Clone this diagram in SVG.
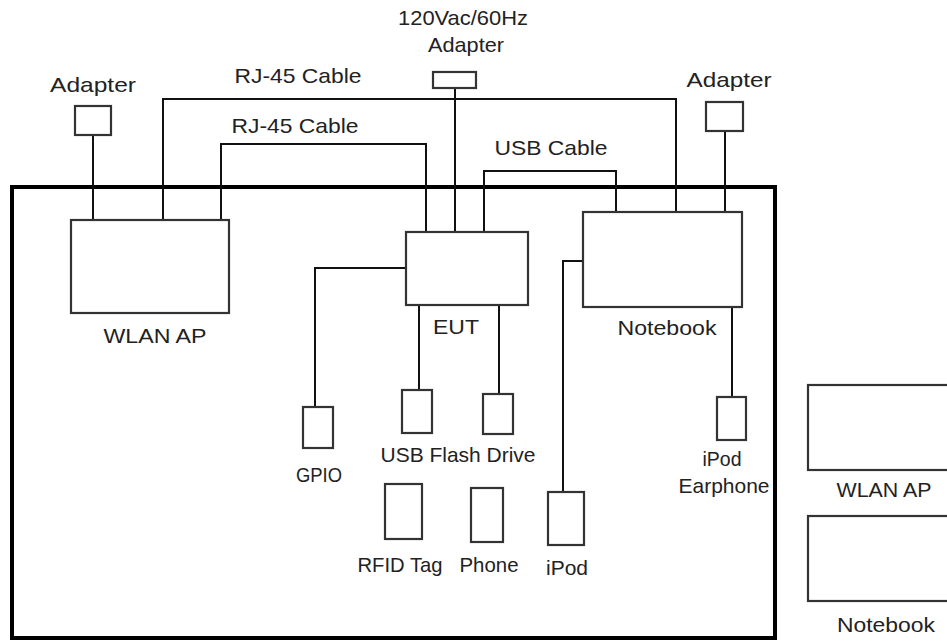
<svg xmlns="http://www.w3.org/2000/svg" width="947" height="641" viewBox="0 0 947 641">
<style>
  .box { fill: #fff; stroke: #333; stroke-width: 2.2; }
  .wire { fill: none; stroke: #111; stroke-width: 2; }
  .frame { fill: none; stroke: #000; stroke-width: 4; }
  text { font-family: "Liberation Sans", Arial, sans-serif; font-size: 21px; fill: #222; text-anchor: middle; }
</style>
<rect width="947" height="641" fill="#fff"/>
<g id="frame">
  <rect class="frame" x="12" y="187" width="763" height="451"/>
</g>
<g id="connectors">
  <path class="wire" d="M93,135 V220"/>
  <path class="wire" d="M163,220 V99 H676 V212"/>
  <path class="wire" d="M221,220 V144 H426 V232"/>
  <path class="wire" d="M455,88 V232"/>
  <path class="wire" d="M484,232 V171 H616 V212"/>
  <path class="wire" d="M725,131 V212"/>
  <path class="wire" d="M406,268 H315 V407"/>
  <path class="wire" d="M419,305 V390"/>
  <path class="wire" d="M499,305 V394"/>
  <path class="wire" d="M583,261 H563 V492"/>
  <path class="wire" d="M732,307 V397"/>
</g>
<g id="labels-cables">
  <text x="298" y="83" textLength="127" lengthAdjust="spacingAndGlyphs">RJ-45 Cable</text>
  <text x="295" y="133" textLength="127" lengthAdjust="spacingAndGlyphs">RJ-45 Cable</text>
  <text x="551" y="155" textLength="113" lengthAdjust="spacingAndGlyphs">USB Cable</text>
</g>
<g id="adapter-left">
  <rect class="box" x="75" y="106" width="36" height="29"/>
  <text x="93" y="92" textLength="86" lengthAdjust="spacingAndGlyphs">Adapter</text>
</g>
<g id="adapter-main">
  <rect class="box" x="433" y="72" width="43" height="16"/>
  <text x="463" y="25" textLength="130" lengthAdjust="spacingAndGlyphs">120Vac/60Hz</text>
  <text x="466" y="52" textLength="76" lengthAdjust="spacingAndGlyphs">Adapter</text>
</g>
<g id="adapter-right">
  <rect class="box" x="706" y="102" width="37" height="29"/>
  <text x="729" y="87" textLength="85" lengthAdjust="spacingAndGlyphs">Adapter</text>
</g>
<g id="wlan-ap">
  <rect class="box" x="71" y="220" width="158" height="93"/>
  <text x="155" y="343" textLength="103" lengthAdjust="spacingAndGlyphs">WLAN AP</text>
</g>
<g id="eut">
  <rect class="box" x="406" y="232" width="122" height="73"/>
  <text x="456" y="334" textLength="46" lengthAdjust="spacingAndGlyphs">EUT</text>
</g>
<g id="notebook">
  <rect class="box" x="583" y="212" width="159" height="95"/>
  <text x="667" y="335" textLength="99" lengthAdjust="spacingAndGlyphs">Notebook</text>
</g>
<g id="gpio">
  <rect class="box" x="303" y="407" width="30" height="41"/>
  <text x="319" y="482" textLength="46" lengthAdjust="spacingAndGlyphs">GPIO</text>
</g>
<g id="usb-flash-drive">
  <rect class="box" x="402" y="390" width="30" height="43"/>
  <rect class="box" x="483" y="394" width="30" height="40"/>
  <text x="458" y="462" textLength="155" lengthAdjust="spacingAndGlyphs">USB Flash Drive</text>
</g>
<g id="rfid-tag">
  <rect class="box" x="385" y="484" width="37" height="55"/>
  <text x="400" y="572" textLength="85" lengthAdjust="spacingAndGlyphs">RFID Tag</text>
</g>
<g id="phone">
  <rect class="box" x="471" y="488" width="32" height="54"/>
  <text x="489" y="572" textLength="59" lengthAdjust="spacingAndGlyphs">Phone</text>
</g>
<g id="ipod">
  <rect class="box" x="548" y="492" width="36" height="53"/>
  <text x="567" y="575" textLength="42" lengthAdjust="spacingAndGlyphs">iPod</text>
</g>
<g id="ipod-earphone">
  <rect class="box" x="717" y="397" width="29" height="43"/>
  <text x="722" y="466" textLength="39" lengthAdjust="spacingAndGlyphs">iPod</text>
  <text x="724" y="493" textLength="91" lengthAdjust="spacingAndGlyphs">Earphone</text>
</g>
<g id="legend-wlan-ap">
  <rect class="box" x="808" y="385" width="160" height="85"/>
  <text x="884" y="497" textLength="95" lengthAdjust="spacingAndGlyphs">WLAN AP</text>
</g>
<g id="legend-notebook">
  <rect class="box" x="808" y="516" width="160" height="85"/>
  <text x="886" y="632" textLength="98" lengthAdjust="spacingAndGlyphs">Notebook</text>
</g>
</svg>
